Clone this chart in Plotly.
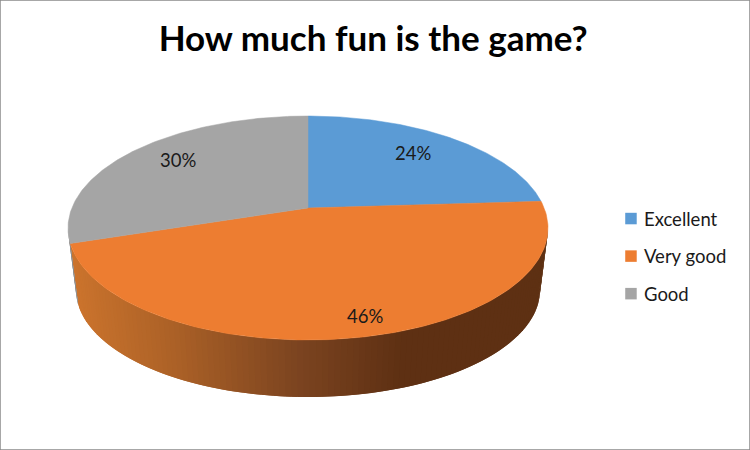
import numpy as np
import plotly.graph_objects as go

title = "How much fun is the game?"
categories = ["Excellent", "Very good", "Good"]
values = [24, 46, 30]
top_colors = ["#5B9BD5", "#ED7D31", "#A5A5A5"]

# projected pie geometry (pixels of the 750x450 canvas)
CX, CY, RX, RY = 308, 228, 240, 112
BCY, BRX, BRY = 290, 232, 107
APEX_Y = 208
K = 0.835  # perspective compression of the angles


def hex2rgb(h):
    return np.array([int(h[i:i + 2], 16) for i in (1, 3, 5)], float)


def to_hex(c):
    return "#%02x%02x%02x" % tuple(int(round(v)) for v in c)


def ellipse_param(theta):
    """clockwise angle from the top (deg) -> ellipse parameter (deg, decreasing)"""
    if theta >= 360:
        return -270.0
    t = np.degrees(np.arctan(K * np.tan(np.radians(-theta / 2))))
    if theta > 180:
        t -= 180
    return 90 + 2 * t


bounds = np.cumsum([0] + values) / sum(values) * 360
params = [ellipse_param(b) for b in bounds]

fig = go.Figure()

# side wall, split in thin overlapping bands; shaded by horizontal position
wall_stops = {
    "#ED7D31": [(70, "#cc742d"), (170, "#ad6227"), (300, "#7c4420"), (405, "#5e3013"), (550, "#5e3013")],
    "#A5A5A5": [(60, "#8a8a8a"), (80, "#7a7a7a")],
    "#5B9BD5": [(300, "#3f6c94"), (550, "#2f5170")],
}


def shade(color, x):
    st = wall_stops[color]
    xs = [s[0] for s in st]
    rgb = np.array([hex2rgb(s[1]) for s in st])
    return to_hex([np.interp(x, xs, rgb[:, i]) for i in range(3)])


STEP = 1.5
for i, col in enumerate(top_colors):
    lo, hi = max(params[i + 1], -180), min(params[i], 0)
    if lo >= hi:
        continue
    edges = np.arange(lo, hi, STEP)
    for s in edges:
        e = min(s + 2 * STEP, hi)
        ang = np.radians(np.linspace(s, e, 4))
        xt = CX + RX * np.cos(ang)
        yt = CY - RY * np.sin(ang)
        xb = CX + BRX * np.cos(ang)
        yb = BCY - BRY * np.sin(ang)
        c = shade(col, xt.mean())
        fig.add_trace(go.Scatter(
            x=np.r_[xt, xb[::-1], xt[0]], y=np.r_[yt, yb[::-1], yt[0]],
            mode="lines", fill="toself", fillcolor=c,
            line=dict(color=c, width=0), showlegend=False, hoverinfo="skip"))

# top faces
for i, (cat, col) in enumerate(zip(categories, top_colors)):
    ang = np.radians(np.linspace(params[i], params[i + 1], 160))
    xs = np.r_[CX, CX + RX * np.cos(ang), CX]
    ys = np.r_[APEX_Y, CY - RY * np.sin(ang), APEX_Y]
    fig.add_trace(go.Scatter(x=xs, y=ys, mode="lines", fill="toself", fillcolor=col,
                             line=dict(color=col, width=0.5), showlegend=False, hoverinfo="skip"))

# legend entries
for cat, col in zip(categories, top_colors):
    fig.add_trace(go.Scatter(x=[None], y=[None], mode="markers", name=cat, legendgroup=cat,
                             marker=dict(symbol="square", size=11.5, color=col)))

label_pos = [(413, 153), (365, 316), (178, 160)]
annotations = [dict(x=p[0], y=p[1], xref="x", yref="y", text=f"{v}%", showarrow=False,
                    font=dict(family="Lato", size=18.5, color="#1a1a1a"))
               for p, v in zip(label_pos, values)]

fig.update_layout(
    width=750, height=450, margin=dict(l=0, r=0, t=0, b=0),
    paper_bgcolor="white", plot_bgcolor="white",
    title=dict(text=f"<b>{title}</b>", x=0.4975, xanchor="center", y=0.915, yanchor="middle",
               font=dict(family="Lato", size=35, color="black")),
    xaxis=dict(range=[0, 750], visible=False, fixedrange=True),
    yaxis=dict(range=[450, 0], visible=False, fixedrange=True),
    legend=dict(x=0.8053, y=0.5555, xanchor="left", yanchor="top", tracegroupgap=10.5,
                font=dict(family="Lato", size=18.5, color="#1a1a1a"), traceorder="grouped",
                bgcolor="rgba(0,0,0,0)"),
    annotations=annotations,
    shapes=[dict(type="rect", xref="paper", yref="paper", x0=0, y0=0, x1=1, y1=1,
                 line=dict(color="#8a8a8a", width=1.5), fillcolor="rgba(0,0,0,0)")],
)
post = """
document.body.style.margin = '0';
setTimeout(function () {
  document.querySelectorAll('.legendsymbols').forEach(function (g) {
    g.setAttribute('transform', 'translate(7,0)');
  });
}, 50);
"""
fig.write_html("out.html", post_script=post, config=dict(displayModeBar=False))
